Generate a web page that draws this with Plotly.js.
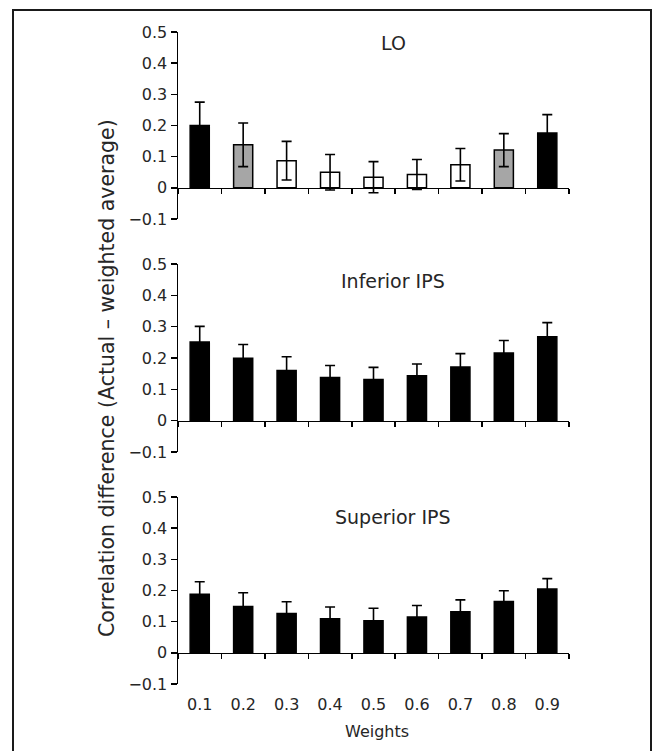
<!DOCTYPE html>
<html>
<head>
<meta charset="utf-8">
<script src="https://cdn.plot.ly/plotly-3.0.1.min.js"></script>
<style>html,body{margin:0;padding:0;background:#fff;}#chart{width:653px;height:751px;}</style>
</head>
<body>
<div id="chart"></div>
<script>
// ---- data ----
const weights = [0.1, 0.2, 0.3, 0.4, 0.5, 0.6, 0.7, 0.8, 0.9];
const weightLabels = ['0.1', '0.2', '0.3', '0.4', '0.5', '0.6', '0.7', '0.8', '0.9'];
const panelTitles = ['LO', 'Inferior IPS', 'Superior IPS'];

const loValues = [0.200, 0.138, 0.087, 0.050, 0.034, 0.043, 0.074, 0.121, 0.176];
const loErrors = [0.075, 0.070, 0.062, 0.057, 0.050, 0.048, 0.052, 0.053, 0.059];
const loColors = ['#000000', '#a6a6a6', '#ffffff', '#ffffff', '#ffffff', '#ffffff', '#ffffff', '#a6a6a6', '#000000'];

const infValues = [0.251, 0.199, 0.160, 0.138, 0.131, 0.143, 0.171, 0.216, 0.268];
const infErrors = [0.050, 0.044, 0.044, 0.038, 0.039, 0.038, 0.043, 0.040, 0.045];

const supValues = [0.188, 0.149, 0.126, 0.109, 0.103, 0.115, 0.132, 0.165, 0.205];
const supErrors = [0.040, 0.044, 0.038, 0.038, 0.040, 0.037, 0.038, 0.034, 0.033];

const yTitle = 'Correlation difference (Actual \u2013 weighted average)';
const xTitle = 'Weights';

// ---- layout helpers ----
const W = 653, H = 751;
const FONT = '"DejaVu Sans", Lato, sans-serif';
const TXT = '#262626';
const xDom = [178 / W, 569 / W];
const yDoms = [
  [1 - 219 / H, 1 - 32 / H],
  [1 - 452 / H, 1 - 264 / H],
  [1 - 684 / H, 1 - 497 / H]
];
const yRange = [-0.1, 0.5];
const xRange = [0.05, 0.95];
const zeroPos = d => d[0] + (d[1] - d[0]) * (0 - yRange[0]) / (yRange[1] - yRange[0]);
const f = (size) => ({ family: FONT, size: size, color: TXT });

function barTrace(vals, errs, colors, idx) {
  const s = idx === 0 ? '' : String(idx + 1);
  return {
    type: 'bar', x: weights, y: vals,
    xaxis: 'x' + s, yaxis: 'y' + s,
    marker: { color: colors, line: { color: '#000', width: 1.5 } },
    error_y: { type: 'data', array: errs, visible: true, color: '#000', thickness: 1.6, width: 5 },
    hoverinfo: 'x+y', showlegend: false
  };
}

const data = [
  barTrace(loValues, loErrors, loColors, 0),
  barTrace(infValues, infErrors, '#000000', 1),
  barTrace(supValues, supErrors, '#000000', 2)
];

const layout = {
  width: W, height: H,
  margin: { l: 0, r: 0, t: 0, b: 0 },
  paper_bgcolor: '#fff', plot_bgcolor: 'rgba(0,0,0,0)',
  font: f(16),
  bargap: 0.56,
  showlegend: false,
  annotations: [],
  shapes: [{
    type: 'rect', xref: 'paper', yref: 'paper',
    x0: 13 / W, x1: 651 / W, y0: -0.02, y1: 1 - 10 / H,
    line: { color: '#1a1a1a', width: 2 }, fillcolor: 'rgba(0,0,0,0)', layer: 'below'
  }]
};

const titleY = [1 - 43 / H, 1 - 281 / H, 1 - 517 / H];
for (let i = 0; i < 3; i++) {
  const s = i === 0 ? '' : String(i + 1);
  const last = i === 2;
  layout['xaxis' + s] = {
    domain: xDom, range: xRange, anchor: 'free', position: zeroPos(yDoms[i]),
    showline: true, linecolor: '#000', linewidth: 1.5,
    showgrid: false, zeroline: false,
    tickmode: 'array', tickvals: weights, ticktext: weightLabels,
    ticks: '', showticklabels: last,
    ticklabelstandoff: last ? 36 : 0,
    tickfont: f(16),
    minor: { tick0: 0.05, dtick: 0.1, ticks: 'outside', ticklen: 5, tickwidth: 1.5, tickcolor: '#000' },
    fixedrange: true
  };
  layout['yaxis' + s] = {
    domain: yDoms[i], range: yRange, anchor: 'x' + s,
    dtick: 0.1, tick0: 0,
    showline: true, linecolor: '#000', linewidth: 1.5,
    ticks: 'outside', ticklen: 6, tickwidth: 1.5, tickcolor: '#000',
    showgrid: false, zeroline: false,
    tickfont: f(16),
    fixedrange: true
  };
  layout.annotations.push({
    text: panelTitles[i], xref: 'paper', yref: 'paper',
    x: 393 / W, y: titleY[i], xanchor: 'center', yanchor: 'middle',
    showarrow: false, font: f(19)
  });
}
layout.annotations.push({
  text: yTitle, xref: 'paper', yref: 'paper', x: 107 / W, y: 1 - 378 / H,
  xanchor: 'center', yanchor: 'middle', textangle: -90, showarrow: false,
  font: f(20.5)
});
layout.annotations.push({
  text: xTitle, xref: 'paper', yref: 'paper', x: 377 / W, y: 1 - 731 / H,
  xanchor: 'center', yanchor: 'middle', showarrow: false,
  font: f(16)
});

Plotly.newPlot('chart', data, layout, { staticPlot: true, displayModeBar: false });
</script>
</body>
</html>
